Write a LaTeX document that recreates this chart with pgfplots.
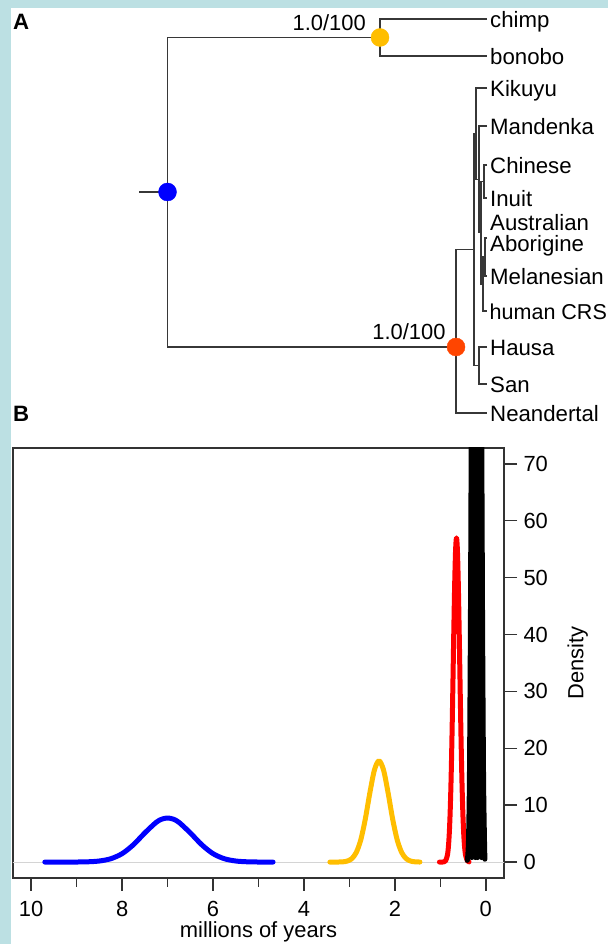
\documentclass[border=0pt]{standalone}
\usepackage{fontspec}
\setmainfont{Liberation Sans}
\usepackage{pgfplots}
\pgfplotsset{compat=1.18}
\definecolor{bgblue}{RGB}{188,224,227}
\definecolor{treegray}{RGB}{55,55,55}
\definecolor{nodeblue}{RGB}{0,0,255}
\definecolor{nodeyellow}{RGB}{255,190,0}
\definecolor{nodeorange}{RGB}{255,69,0}
\definecolor{zerogray}{RGB}{212,212,212}
\newcommand{\treefont}{\fontsize{22.3}{27}\selectfont}
\newcommand{\axfont}{\fontsize{22}{26}\selectfont}
\tikzset{br/.style={treegray, line width=1.4bp, mark=none}}
\begin{document}
\begin{tikzpicture}[x=1bp,y=1bp]
\fill[bgblue] (0,0) rectangle (608,944);
\fill[white] (11,0) rectangle (608,935.7);
% ---------------- Panel A: tree ----------------
\begin{axis}[at={(0bp,0bp)}, anchor=south west, scale only axis,
  width=608bp, height=944bp, xmin=0, xmax=608, ymin=0, ymax=944,
  y dir=reverse, hide axis, clip=false]
\addplot[br] coordinates {(139,192) (167.5,192)};
\addplot[br] coordinates {(380,37.5) (167.5,37.5) (167.5,347) (456,347)};
\addplot[br] coordinates {(487,19) (380,19) (380,56) (487,56)};
\addplot[br] coordinates {(474,249.6) (456,249.6) (456,413) (487,413)};
\addplot[br] coordinates {(476,133.7) (474,133.7) (474,365.5) (479,365.5)};
\addplot[br] coordinates {(487,88) (476,88) (476,179.4) (479,179.4)};
\addplot[br] coordinates {(487,126) (479,126) (479,232.75) (481,232.75)};
\addplot[br] coordinates {(484,181.5) (481,181.5) (481,284) (483,284)};
\addplot[br] coordinates {(487,165) (484,165) (484,198) (487,198)};
\addplot[br] coordinates {(485,257) (483,257) (483,311) (487,311)};
\addplot[br] coordinates {(487,238) (485,238) (485,276) (487,276)};
\addplot[br] coordinates {(487,347) (479,347) (479,384) (487,384)};
\addplot[only marks, mark=*, mark size=9bp, mark options={fill=nodeblue, draw=nodeblue}] coordinates {(167.5,192)};
\addplot[only marks, mark=*, mark size=9bp, mark options={fill=nodeyellow, draw=nodeyellow}] coordinates {(380,37.5)};
\addplot[only marks, mark=*, mark size=9bp, mark options={fill=nodeorange, draw=nodeorange}] coordinates {(456,347)};
\begin{scope}[every node/.style={anchor=base west, inner sep=0pt, font=\treefont}]
\node at (axis cs:490,27.2) {chimp};
\node at (axis cs:490,64.2) {bonobo};
\node at (axis cs:490,96.2) {Kikuyu};
\node at (axis cs:490,134.2) {Mandenka};
\node at (axis cs:490,173.2) {Chinese};
\node at (axis cs:490,206.2) {Inuit};
\node at (axis cs:490,230.2) {Australian};
\node at (axis cs:490,251.2) {Aborigine};
\node at (axis cs:490,284.2) {Melanesian};
\node[font=\fontsize{21.6}{26}\selectfont] at (axis cs:489.5,319.2) {human CRS};
\node at (axis cs:490,355.2) {Hausa};
\node at (axis cs:490,392.2) {San};
\node at (axis cs:490,421.2) {Neandertal};
\end{scope}
\node[anchor=base east, inner sep=0pt, font=\axfont] at (axis cs:366,30.7) {1.0/100};
\node[anchor=base east, inner sep=0pt, font=\axfont] at (axis cs:445.7,339.3) {1.0/100};
\node[anchor=base west, inner sep=0pt, font=\treefont\bfseries] at (axis cs:13,29.3) {A};
\node[anchor=base west, inner sep=0pt, font=\treefont\bfseries] at (axis cs:13,421.7) {B};
\end{axis}
% ---------------- Panel B: densities ----------------
\begin{axis}[at={(13bp,66bp)}, anchor=south west, scale only axis,
  width=491bp, height=430bp,
  xmin=-0.4, xmax=10.4, x dir=reverse, ymin=-2.8, ymax=72.8,
  xtick={0,2,4,6,8,10}, minor xtick={1,3,5,7,9},
  ytick={0,10,20,30,40,50,60,70},
  xtick pos=left, ytick pos=right, yticklabel pos=right,
  tick align=outside, major tick length=13bp, minor tick length=9bp,
  axis line style={line width=1.4bp, black!80},
  every tick/.style={line width=1.4bp, black!80},
  /pgf/number format/assume math mode=true,
  tick label style={font=\axfont},
  xticklabel style={yshift=-7bp},
  yticklabel style={xshift=3bp},
  label style={font=\axfont},
  xlabel={millions of years},
  xlabel style={at={(axis description cs:0.5,-0.126)}, anchor=center},
  ylabel={Density},
  ylabel style={at={(axis description cs:1.15,0.5)}, anchor=center},
  every axis plot/.append style={line width=5bp, line cap=round, line join=round}]
\addplot[zerogray, line width=1bp] coordinates {(-0.4,0) (10.4,0)};
\addplot[nodeblue, smooth] coordinates {
(9.70,0) (9.50,0.0) (9.25,0.002) (9.00,0.010) (8.75,0.049) (8.50,0.188) (8.25,0.585)
(8.00,1.48) (7.75,3.06) (7.50,5.13) (7.25,6.99) (7.125,7.55) (7.00,7.75) (6.875,7.55)
(6.75,6.99) (6.50,5.13) (6.25,3.06) (6.00,1.48) (5.75,0.585) (5.50,0.188) (5.25,0.049)
(5.00,0.010) (4.75,0.002) (4.68,0)};
\addplot[nodeyellow, smooth] coordinates {
(3.43,0) (3.25,0.01) (3.15,0.04) (3.05,0.17) (2.95,0.59) (2.85,1.67) (2.75,3.92)
(2.65,7.60) (2.55,12.20) (2.45,16.19) (2.35,17.8) (2.25,16.19) (2.15,12.20) (2.05,7.60)
(1.95,3.92) (1.85,1.67) (1.75,0.59) (1.65,0.17) (1.55,0.04) (1.45,0.01)};
\addplot[red, smooth] coordinates {
(1.02,0) (0.965,0) (0.925,0.03) (0.885,0.22) (0.845,1.20) (0.825,2.50) (0.805,4.83)
(0.785,8.61) (0.765,14.22) (0.745,21.73) (0.725,30.75) (0.705,40.28) (0.685,48.85)
(0.665,54.84) (0.645,57) (0.625,54.84) (0.605,48.85) (0.585,40.28) (0.565,30.75)
(0.545,21.73) (0.525,14.22) (0.505,8.61) (0.485,4.83) (0.465,2.50) (0.445,1.20)
(0.405,0.22) (0.37,0.03)};
\addplot[black, smooth] coordinates {
(0.41,0.3) (0.40,0.79) (0.38,4.05) (0.36,14.9) (0.34,39.7) (0.33,57.2) (0.32,76.2)
(0.31,93.4) (0.30,105.6) (0.29,110) (0.28,105.6) (0.27,93.4) (0.26,76.2) (0.25,57.2)
(0.24,39.7) (0.22,14.9) (0.20,4.05) (0.18,0.79)};
\addplot[black, smooth] coordinates {
(0.31,0.79) (0.29,4.05) (0.27,14.9) (0.25,39.7) (0.24,57.2) (0.23,76.2) (0.22,93.4)
(0.21,105.6) (0.20,110) (0.19,105.6) (0.18,93.4) (0.17,76.2) (0.16,57.2) (0.15,39.7)
(0.13,14.9) (0.11,4.05) (0.09,0.79)};
\addplot[black, smooth] coordinates {
(0.23,0.79) (0.21,4.05) (0.19,14.9) (0.17,39.7) (0.16,57.2) (0.15,76.2) (0.14,93.4)
(0.13,105.6) (0.12,110) (0.11,105.6) (0.10,93.4) (0.09,76.2) (0.08,57.2) (0.07,39.7)
(0.05,14.9) (0.03,4.05) (0.02,0.5)};
\end{axis}
\pgfresetboundingbox
\useasboundingbox (0,0) rectangle (608,944);
\end{tikzpicture}
\end{document}
